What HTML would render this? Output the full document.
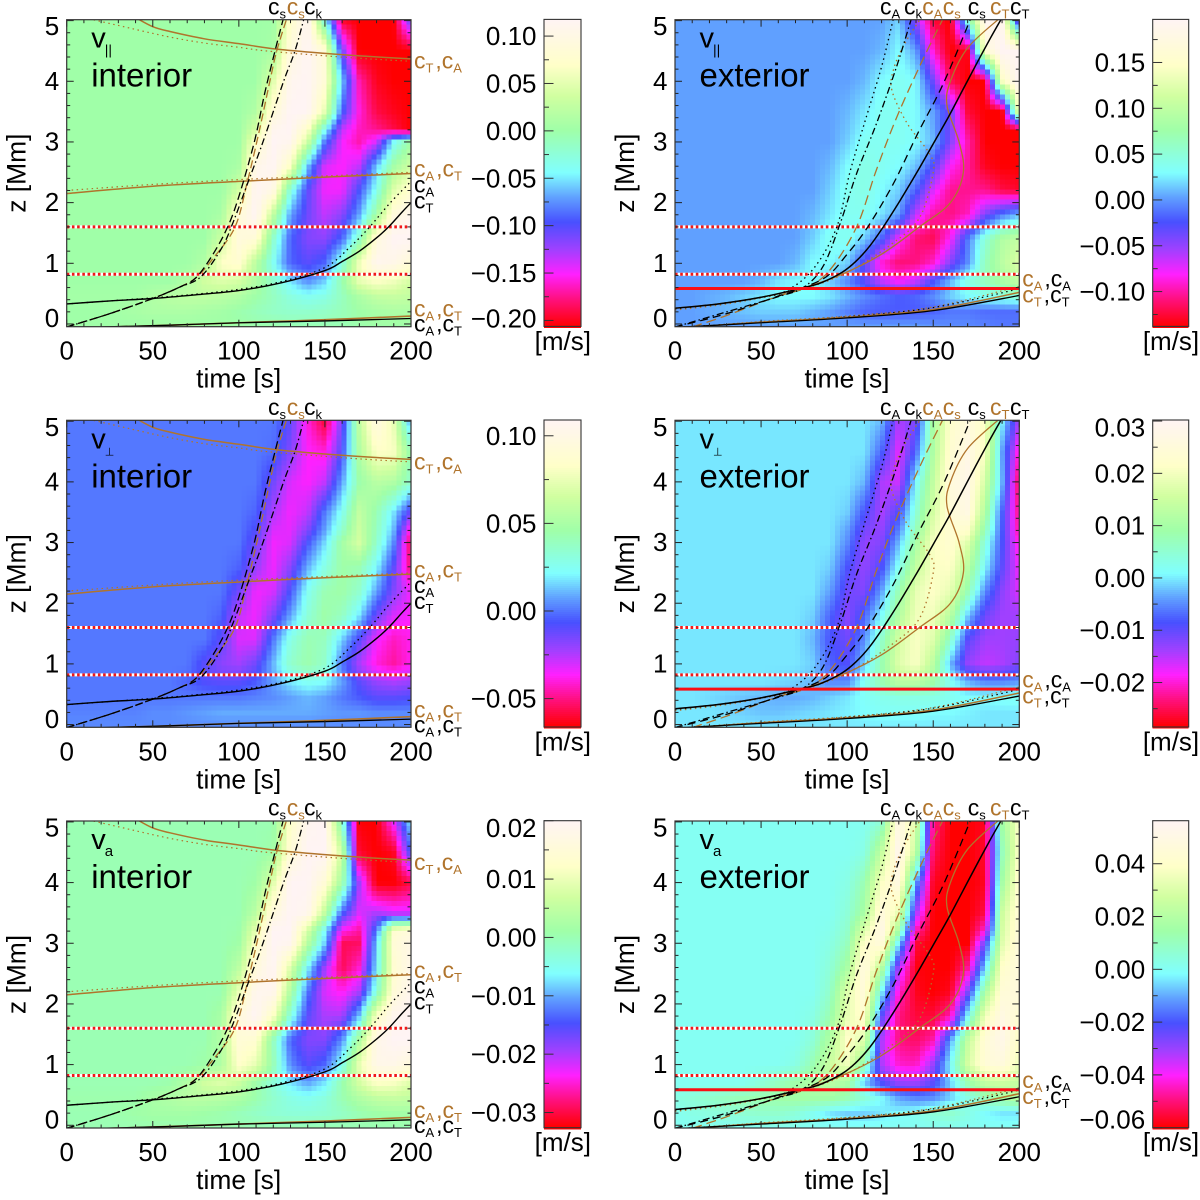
<!DOCTYPE html>
<html lang="en">
<head>
<meta charset="utf-8">
<title>Velocity wave panels</title>
<style>
html,body{margin:0;padding:0;background:#fff;}
svg{display:block;font-family:"Liberation Sans",Arial,sans-serif;}
</style>
</head>
<body>
<svg id="figure" xmlns="http://www.w3.org/2000/svg" width="1200" height="1200" viewBox="0 0 1200 1200"></svg>
<script>
// ---------- heatmap grid axes ----------
const timeGrid = [0,10,20,30,40,50,60,70,80,90,100,110,120,130,140,150,160,170,180,190,200];
const zGrid = [-0.05,0.2,0.45,0.7,1.0,1.4,1.8,2.2,2.6,3.0,3.2,3.5,4.0,4.5,5.05];

// ---------- heatmap values: colour-table index 0..100 (byte-scaled velocity), rows bottom to top ----------
const vParInterior = [
[64,64,64,64,64,64,64,64,64,64,64,63,63,62,62,62,62,63,64,64,64],
[64,64,64,65,66,67,67,67,66,65,63,61,59,58,58,59,61,64,66,67,67],
[65,65,65,65,65,68,70,71,71,70,68,64,60,55,52,54,60,67,72,73,72],
[64,64,64,64,64,64,64,68,75,78,76,68,58,48,40,46,62,80,85,82,76],
[64,64,64,64,64,64,64,64,68,85,88,70,52,36,32,36,55,82,98,96,90],
[64,64,64,64,64,64,64,64,64,74,92,90,58,36,28,27,36,58,92,100,100],
[64,64,64,64,64,64,64,64,64,66,90,100,72,42,30,22,27,42,65,92,98],
[64,64,64,64,64,64,64,64,64,64,75,100,95,55,32,18,18,34,52,78,88],
[64,64,64,64,64,64,64,64,64,64,66,96,100,85,45,20,17,22,45,65,75],
[64,64,64,64,64,64,64,64,64,64,64,85,100,98,75,38,18,12,20,50,64],
[64,64,64,64,64,64,64,64,64,64,64,76,98,100,86,52,22,13,10,5,0],
[64,64,64,64,64,64,64,64,64,64,64,68,90,100,100,80,36,15,5,2,0],
[64,64,64,64,64,64,64,64,64,64,64,64,78,98,100,90,46,12,2,0,0],
[64,64,64,64,64,64,64,64,64,64,64,64,66,92,100,90,30,0,0,0,0],
[64,64,64,64,64,64,64,64,64,64,64,64,64,85,100,50,0,0,0,0,34]
];
const vParExterior = [
[42,42,42,42,42,42,42,42,42,42,42,42,42,42,42,41,40,40,39,38,38],
[42,42,43,44,45,46,46,46,44,42,39,36,35,35,35,36,38,38,37,37,37],
[42,42,43,44,46,48,50,50,50,48,44,40,37,35,36,40,46,50,52,54,56],
[42,42,42,42,42,44,48,50,50,46,40,32,22,17,22,34,44,54,60,66,72],
[42,42,42,42,42,42,42,44,50,50,46,32,14,8,9,14,28,40,60,70,78],
[42,42,42,42,42,42,42,42,46,52,52,46,36,18,8,6,17,38,56,68,72],
[42,42,42,42,42,42,42,42,44,48,52,52,48,42,22,11,9,13,28,38,44],
[42,42,42,42,42,42,42,42,42,46,52,54,50,46,36,20,10,10,10,5,3],
[42,42,42,42,42,42,42,42,42,44,50,54,52,50,45,33,17,11,2,0,0],
[42,42,42,42,42,42,42,42,42,42,46,52,52,52,50,44,28,12,0,0,0],
[42,42,42,42,42,42,42,42,42,42,45,50,52,52,50,43,29,9,0,0,0],
[42,42,42,42,42,42,42,42,42,42,44,48,52,52,50,42,30,4,0,0,85],
[42,42,42,42,42,42,42,42,42,42,42,44,50,52,50,30,6,0,0,85,100],
[42,42,42,42,42,42,42,42,42,42,42,42,44,50,42,14,0,2,90,100,100],
[42,42,42,42,42,42,42,42,42,42,42,42,42,46,25,3,0,60,100,98,15]
];
const vPerpInterior = [
[40,40,40,40,40,40,40,40,40,40,40,40,40,40,40,40,40,40,40,40,40],
[39,39,39,39,39,40,40,41,42,43,43,43,43,43,43,42,41,41,40,40,40],
[38,38,38,38,38,38,38,38,38,38,38,39,40,42,44,42,38,35,32,32,33],
[38,38,38,38,38,38,38,36,33,32,32,35,42,48,52,50,42,32,26,24,26],
[38,38,38,38,38,38,38,38,32,27,25,30,44,58,63,58,38,24,15,11,16],
[38,38,38,38,38,38,38,38,38,32,20,20,38,54,62,60,46,32,18,13,16],
[38,38,38,38,38,38,38,38,38,36,22,18,28,42,56,64,60,48,30,20,17],
[38,38,38,38,38,38,38,38,38,38,30,18,20,34,52,62,64,58,42,28,18],
[38,38,38,38,38,38,38,38,38,38,36,26,18,27,43,54,64,62,50,32,8],
[38,38,38,38,38,38,38,38,38,38,38,30,18,20,34,47,65,76,58,40,6],
[38,38,38,38,38,38,38,38,38,38,38,33,20,19,28,42,58,74,60,44,14],
[38,38,38,38,38,38,38,38,38,38,38,36,24,18,22,38,52,72,62,48,30],
[38,38,38,38,38,38,38,38,38,38,38,38,30,20,17,22,42,63,70,68,58],
[38,38,38,38,38,38,38,38,38,38,38,38,37,28,17,15,33,68,85,84,62],
[38,38,38,38,38,38,38,38,38,38,38,38,38,32,15,3,28,72,95,80,40]
];
const vPerpExterior = [
[48,48,48,48,48,48,48,48,48,48,48,48,48,48,48,48,48,48,48,48,48],
[48,48,48,47,46,45,45,46,47,48,49,50,51,51,51,50,50,49,48,48,48],
[48,48,47,46,45,44,43,43,44,46,48,51,53,54,54,54,52,50,50,51,52],
[48,48,48,48,48,48,47,46,44,40,40,52,62,70,70,64,52,44,40,40,42],
[48,48,48,48,48,48,48,48,46,36,33,46,62,78,84,70,44,26,22,24,28],
[48,48,48,48,48,48,48,48,44,34,30,40,58,76,84,78,58,32,25,25,26],
[48,48,48,48,48,48,48,48,46,36,27,36,50,68,82,82,70,46,30,25,25],
[48,48,48,48,48,48,48,48,48,42,30,28,42,62,80,85,80,62,40,27,20],
[48,48,48,48,48,48,48,48,48,46,34,26,33,52,72,84,85,70,50,32,18],
[48,48,48,48,48,48,48,48,48,48,40,26,28,44,66,84,88,78,55,34,15],
[48,48,48,48,48,48,48,48,48,48,42,29,26,39,61,80,89,86,61,35,11],
[48,48,48,48,48,48,48,48,48,48,46,34,24,33,56,76,90,94,68,36,9],
[48,48,48,48,48,48,48,48,48,48,48,44,24,21,50,72,92,96,76,44,6],
[48,48,48,48,48,48,48,48,48,48,48,48,36,19,36,68,88,95,84,42,14],
[48,48,48,48,48,48,48,48,48,48,48,48,45,24,28,66,86,92,85,50,25]
];
const vaInterior = [
[62,62,62,62,62,62,62,62,62,62,62,62,62,62,62,62,62,62,62,62,62],
[62,62,62,63,64,65,65,65,64,63,61,59,57,56,56,57,59,62,64,65,65],
[63,63,63,63,63,66,68,70,70,69,67,63,58,54,52,55,62,68,72,73,72],
[62,62,62,62,62,62,63,68,75,78,74,64,56,48,42,48,62,76,85,84,78],
[62,62,62,62,62,62,62,62,64,68,86,80,62,40,32,36,52,80,96,96,92],
[62,62,62,62,62,62,62,62,62,68,90,88,60,36,28,28,40,68,96,100,100],
[62,62,62,62,62,62,62,62,62,66,92,100,85,55,32,24,24,45,85,98,100],
[62,62,62,62,62,62,62,62,62,62,80,98,98,68,38,20,16,24,55,90,98],
[62,62,62,62,62,62,62,62,62,62,70,92,100,78,50,25,6,14,48,88,96],
[62,62,62,62,62,62,62,62,62,62,64,85,100,98,70,46,6,7,45,90,95],
[62,62,62,62,62,62,62,62,62,62,63,80,100,100,76,50,16,11,38,88,92],
[62,62,62,62,62,62,62,62,62,62,62,70,92,100,98,72,36,20,24,20,20],
[62,62,62,62,62,62,62,62,62,62,62,64,78,100,100,90,65,25,0,0,5],
[62,62,62,62,62,62,62,62,62,62,62,62,64,90,100,100,75,3,0,2,35],
[62,62,62,62,62,62,62,62,62,62,62,62,62,85,98,100,55,0,0,20,50]
];
const vaExterior = [
[52,52,52,52,52,52,52,52,52,52,52,52,52,52,52,52,52,52,52,52,52],
[52,54,55,56,57,58,58,56,52,48,46,46,48,50,52,56,58,54,50,48,48],
[54,56,58,60,62,63,64,65,65,65,62,56,50,42,39,40,46,54,60,66,70],
[52,52,52,52,52,56,60,64,68,70,66,46,33,26,25,32,46,62,72,74,72],
[52,52,52,52,52,52,52,54,62,74,82,60,24,14,13,26,50,76,90,92,82],
[52,52,52,52,52,52,52,52,56,68,86,78,24,9,7,12,42,72,90,96,85],
[52,52,52,52,52,52,52,52,54,62,80,88,32,9,4,4,12,50,82,94,88],
[52,52,52,52,52,52,52,52,52,58,78,92,50,14,2,0,2,28,66,90,92],
[52,52,52,52,52,52,52,52,52,56,66,94,70,24,1,0,0,10,46,86,92],
[52,52,52,52,52,52,52,52,52,54,60,86,92,48,4,0,0,0,30,78,92],
[52,52,52,52,52,52,52,52,52,53,58,78,96,65,12,0,0,0,15,76,91],
[52,52,52,52,52,52,52,52,52,52,56,66,92,80,25,0,0,0,5,74,90],
[52,52,52,52,52,52,52,52,52,52,54,62,84,94,42,2,0,0,2,65,88],
[52,52,52,52,52,52,52,52,52,52,52,54,72,98,72,6,0,0,3,60,85],
[52,52,52,52,52,52,52,52,52,52,52,52,55,95,78,10,0,0,2,65,85]
];

// ---------- colorbar ranges [min,max] in m/s and printed tick values ----------
const rangeParInt = [-0.2063,0.1176];
const rangeParExt = [-0.138,0.197];
const rangePerpInt = [-0.0662,0.109];
const rangePerpExt = [-0.0285,0.0302];
const rangeVaInt = [-0.0326,0.02];
const rangeVaExt = [-0.06,0.0563];
const ticksParInt = [0.10,0.05,0.00,-0.05,-0.10,-0.15,-0.20];
const ticksParExt = [0.15,0.10,0.05,0.00,-0.05,-0.10];
const ticksPerpInt = [0.10,0.05,0.00,-0.05];
const ticksPerpExt = [0.03,0.02,0.01,0.00,-0.01,-0.02];
const ticksVaInt = [0.02,0.01,0.00,-0.01,-0.02,-0.03];
const ticksVaExt = [0.04,0.02,0.00,-0.02,-0.04,-0.06];

// ---------- axis ticks ----------
const timeMajor = [0,50,100,150,200];
const zMajor = [0,1,2,3,4,5];

// ---------- interior characteristic curves ----------
const intCsBlackT = [0,25,50,65,75,85,93.5,100,109,115,121,126];
const intCsBlackZ = [-0.05,0.17,0.42,0.6,0.76,1.15,1.6,2.1,3.0,3.8,4.5,5.05];
const intCsBrownT = [0,25,50,65,75,85,97.8,105,112,118,122,128];
const intCsBrownZ = [-0.05,0.17,0.42,0.6,0.76,1.08,1.6,2.35,3.2,4.0,4.5,5.05];
const intCkT = [0,25,50,65,78,90,97,105.5,114,126,132.6,138];
const intCkZ = [-0.05,0.17,0.42,0.6,0.78,1.25,1.7,2.35,3.0,4.0,4.5,5.05];
const intCtT = [0,25,50,75,100,125,150,160,170,180,187,195,200];
const intCtZ = [0.33,0.38,0.42,0.48,0.55,0.68,0.88,1.03,1.2,1.42,1.6,1.85,2.0];
const intCaT = [0,25,50,75,100,125,150,165,176,188,200];
const intCaZ = [0.33,0.38,0.43,0.49,0.57,0.7,0.93,1.28,1.6,2.0,2.35];
const intUpperSolidT = [40,50,60,80,100,122,150,175,200];
const intUpperSolidZ = [5.05,4.9,4.82,4.7,4.62,4.53,4.46,4.41,4.37];
const intUpperDotT = [10,30,58,80,100,116,150,175,200];
const intUpperDotZ = [5.05,4.92,4.74,4.63,4.56,4.5,4.42,4.37,4.33];
const intMidSolidT = [0,50,100,150,200];
const intMidSolidZ = [2.15,2.27,2.35,2.42,2.48];
const intMidDotT = [0,50,100,150,200];
const intMidDotZ = [2.2,2.3,2.38,2.44,2.5];
const intLowBlackT = [20,60,100,150,200];
const intLowBlackZ = [-0.05,-0.02,0.02,0.05,0.09];
const intLowBrownT = [25,60,100,150,200];
const intLowBrownZ = [-0.05,-0.02,0.02,0.07,0.13];

// ---------- exterior characteristic curves ----------
const extCtBlackT = [0,25,50,75,85,97,105,113,121,130,137,143,152,159,167,175,183,190];
const extCtBlackZ = [0.26,0.33,0.44,0.6,0.68,0.85,1.03,1.28,1.6,2.0,2.33,2.62,3.07,3.42,3.85,4.28,4.7,5.05];
const extCtBrownT = [0,25,50,75,97,120,142,160,167.5,165,158,160,170,189];
const extCtBrownZ = [0.26,0.33,0.44,0.6,0.82,1.15,1.6,2.0,2.5,3.0,3.6,4.0,4.55,5.05];
const extCaBrownT = [0,25,50,75,100,125,142,150,148,135,126,127,133,143];
const extCaBrownZ = [0.23,0.31,0.43,0.58,0.85,1.3,1.75,2.5,2.8,3.3,3.85,4.2,4.6,5.05];
const extCaBlackT = [0,25,50,65,80.7,94,101.6,111,120,127];
const extCaBlackZ = [0.25,0.33,0.44,0.55,0.92,1.6,2.5,3.4,4.24,5.05];
const extCkT = [0,30,60,74.5,86,96,105.5,117,128.7,137.5];
const extCkZ = [-0.05,0.2,0.45,0.6,0.95,1.66,2.48,3.3,4.24,5.05];
const extCaDashT = [10,30,59,76.5,90,105.5,117,129,143,156];
const extCaDashZ = [-0.05,0.14,0.45,0.6,0.89,1.6,2.54,3.42,4.3,5.05];
const extCsT = [0,30,59,70.7,88,100,112,127,141,156,172];
const extCsZ = [-0.05,0.17,0.45,0.56,0.78,1.15,1.6,2.32,3.14,3.97,5.05];
const extLowBlackT = [5,50,100,150,200];
const extLowBlackZ = [-0.05,0.02,0.1,0.22,0.47];
const extLowBrownT = [10,50,100,150,200];
const extLowBrownZ = [-0.05,0.03,0.11,0.24,0.52];
const extLowDotBlackT = [5,50,100,150,200];
const extLowDotBlackZ = [-0.05,0.03,0.12,0.27,0.58];
const extLowDotBrownT = [10,50,100,150,200];
const extLowDotBrownZ = [-0.05,0.04,0.13,0.28,0.62];

// ---------- reference heights in Mm ----------
const dottedHeights = [0.82,1.6];
const extRedHeight = [0.585];

// ---------- colour table (index, r, g, b) ----------
const colorTable = [
[0,255,0,0],[9,255,16,128],[17,255,32,255],[25,160,64,255],[34,72,80,255],[42,96,160,255],
[50,128,255,255],[64,160,255,168],[75,208,255,160],[85,255,255,200],[100,255,244,244]
];

const BLACK = '#000000', BROWN = '#b0742c';
const interiorCurves = [
 {t:intUpperDotT,z:intUpperDotZ,c:BROWN,w:1.2,d:'1.5 3.5',n:'c-a-upper-brown'},
 {t:intUpperSolidT,z:intUpperSolidZ,c:BROWN,w:1.5,d:'',n:'c-t-upper-brown'},
 {t:intMidDotT,z:intMidDotZ,c:BROWN,w:1.2,d:'1.5 3.5',n:'c-a-mid-brown'},
 {t:intMidSolidT,z:intMidSolidZ,c:BROWN,w:1.5,d:'',n:'c-t-mid-brown'},
 {t:intCsBrownT,z:intCsBrownZ,c:BROWN,w:1.3,d:'8 4',n:'c-s-brown'},
 {t:intLowBrownT,z:intLowBrownZ,c:BROWN,w:1.6,d:'',n:'c-low-brown'},
 {t:intLowBlackT,z:intLowBlackZ,c:BLACK,w:1.3,d:'',n:'c-low-black'},
 {t:intCsBlackT,z:intCsBlackZ,c:BLACK,w:1.3,d:'8 4',n:'c-s-black'},
 {t:intCkT,z:intCkZ,c:BLACK,w:1.3,d:'7 3 1.5 3',n:'c-k-black'},
 {t:intCaT,z:intCaZ,c:BLACK,w:1.3,d:'1.5 3.5',n:'c-a-black'},
 {t:intCtT,z:intCtZ,c:BLACK,w:1.4,d:'',n:'c-t-black'}
];
const exteriorCurves = [
 {t:extCaBrownT,z:extCaBrownZ,c:BROWN,w:1.3,d:'1.5 3.5',n:'c-a-brown-dotted'},
 {t:extCtBrownT,z:extCtBrownZ,c:BROWN,w:1.3,d:'',n:'c-t-brown'},
 {t:extCaDashT,z:extCaDashZ,c:BROWN,w:1.3,d:'10 5',n:'c-s-brown-dashed'},
 {t:extLowDotBrownT,z:extLowDotBrownZ,c:BROWN,w:1.2,d:'1.5 3',n:'c-a-low-brown'},
 {t:extLowDotBlackT,z:extLowDotBlackZ,c:BLACK,w:1.2,d:'1.5 3.5',n:'c-a-low-black'},
 {t:extLowBrownT,z:extLowBrownZ,c:BROWN,w:1.5,d:'',n:'c-t-low-brown'},
 {t:extLowBlackT,z:extLowBlackZ,c:BLACK,w:1.3,d:'',n:'c-t-low-black'},
 {t:extCaBlackT,z:extCaBlackZ,c:BLACK,w:1.3,d:'1.5 3.5',n:'c-a-black'},
 {t:extCkT,z:extCkZ,c:BLACK,w:1.3,d:'7 3 1.5 3',n:'c-k-black'},
 {t:extCsT,z:extCsZ,c:BLACK,w:1.3,d:'8 5',n:'c-s-black'},
 {t:extCtBlackT,z:extCtBlackZ,c:BLACK,w:1.5,d:'',n:'c-t-black'}
];

const panels = [
 {key:'v-par-interior',sym:'||',symSize:14,inner:'interior',data:vParInterior,range:rangeParInt,ticks:ticksParInt,col:0,row:0},
 {key:'v-par-exterior',sym:'||',symSize:14,inner:'exterior',data:vParExterior,range:rangeParExt,ticks:ticksParExt,col:1,row:0},
 {key:'v-perp-interior',sym:'\u22A5',symSize:11,inner:'interior',data:vPerpInterior,range:rangePerpInt,ticks:ticksPerpInt,col:0,row:1},
 {key:'v-perp-exterior',sym:'\u22A5',symSize:11,inner:'exterior',data:vPerpExterior,range:rangePerpExt,ticks:ticksPerpExt,col:1,row:1},
 {key:'v-a-interior',sym:'a',symSize:15,inner:'interior',data:vaInterior,range:rangeVaInt,ticks:ticksVaInt,col:0,row:2},
 {key:'v-a-exterior',sym:'a',symSize:15,inner:'exterior',data:vaExterior,range:rangeVaExt,ticks:ticksVaExt,col:1,row:2}
];

// ---------- layout ----------
const NS = 'http://www.w3.org/2000/svg';
const PLOT_W = 344.3, PLOT_H = 307, CELL = 5;
const COL_X = [66.7,675];
const ROW_TOP = [19.7,420.3,821];
const CB_X = [544,1152.7], CB_W = [37,36];
const T_MAX = 200, Z_MIN = -0.045, Z_SPAN = 5.06;
const figure = document.getElementById('figure');

function make(tag, parent){
  const e = document.createElementNS(NS, tag);
  parent.appendChild(e);
  return e;
}
function xAxis(x0, t){ return x0 + t / T_MAX * PLOT_W; }
function zAxis(top, z){ return top + PLOT_H - (z - Z_MIN) / Z_SPAN * PLOT_H; }
function colorAt(v){
  const c = Math.max(0, Math.min(100, v));
  for(let i = 1; i < colorTable.length; i++){
    const a = colorTable[i-1], b = colorTable[i];
    if(c <= b[0]){
      const f = (c - a[0]) / (b[0] - a[0]);
      return 'rgb(' + Math.round(a[1]+(b[1]-a[1])*f) + ',' + Math.round(a[2]+(b[2]-a[2])*f) + ',' + Math.round(a[3]+(b[3]-a[3])*f) + ')';
    }
  }
  return 'rgb(255,244,244)';
}
function bracket(grid, v){
  let i = 0;
  while(i < grid.length - 2 && v > grid[i+1]) i++;
  const f = Math.max(0, Math.min(1, (v - grid[i]) / (grid[i+1] - grid[i])));
  return [i, f];
}
function sample(data, t, z){
  const a = bracket(timeGrid, t), b = bracket(zGrid, z);
  const i = a[0], fx = a[1], j = b[0], fy = b[1];
  const low = data[j][i] * (1-fx) + data[j][i+1] * fx;
  const high = data[j+1][i] * (1-fx) + data[j+1][i+1] * fx;
  return low * (1-fy) + high * fy;
}
function addText(parent, str, x, y, size, anchor, fill, name){
  const t = make('text', parent);
  t.setAttribute('x', x);
  t.setAttribute('y', y);
  t.setAttribute('font-size', size);
  t.setAttribute('text-anchor', anchor);
  t.setAttribute('fill', fill);
  
  
  t.textContent = str;
  return t;
}
function addLine(parent, x1, y1, x2, y2, stroke, width, name){
  const l = make('line', parent);
  l.setAttribute('x1', x1);
  l.setAttribute('y1', y1);
  l.setAttribute('x2', x2);
  l.setAttribute('y2', y2);
  l.setAttribute('stroke', stroke);
  l.setAttribute('stroke-width', width);
  
  
  return l;
}
// speed label, e.g. parts = [['c','s',BLACK],[',','',BROWN]]
function addSpeedLabel(parent, parts, x, y, name){
  const t = make('text', parent);
  t.setAttribute('x', x);
  t.setAttribute('y', y);
  t.setAttribute('font-size', 23);
  
  
  parts.forEach(function(p){
    const main = make('tspan', t);
    main.setAttribute('fill', p[2]);
    main.textContent = p[0];
    if(p[1]){
      const sub = make('tspan', t);
      sub.setAttribute('fill', p[2]);
      sub.setAttribute('font-size', 13);
      sub.setAttribute('dy', 4);
      sub.textContent = p[1];
      const reset = make('tspan', t);
      reset.setAttribute('dy', -4);
      reset.textContent = '\u200A';
    }
  });
}
function smoothPath(xs, ys){
  let d = 'M' + xs[0].toFixed(2) + ' ' + ys[0].toFixed(2);
  for(let i = 0; i < xs.length - 1; i++){
    const p0 = i > 0 ? i - 1 : i, p3 = i + 2 < xs.length ? i + 2 : i + 1;
    const c1x = xs[i] + (xs[i+1] - xs[p0]) / 6, c1y = ys[i] + (ys[i+1] - ys[p0]) / 6;
    const c2x = xs[i+1] - (xs[p3] - xs[i]) / 6, c2y = ys[i+1] - (ys[p3] - ys[i]) / 6;
    d += 'C' + c1x.toFixed(2) + ' ' + c1y.toFixed(2) + ' ' + c2x.toFixed(2) + ' ' + c2y.toFixed(2) + ' ' + xs[i+1].toFixed(2) + ' ' + ys[i+1].toFixed(2);
  }
  return d;
}

function drawHeatmap(p, x0, top, parent){
  const g = make('g', parent);
  
  
  g.setAttribute('shape-rendering', 'crispEdges');
  const cols = Math.ceil(PLOT_W / CELL), rows = Math.ceil(PLOT_H / CELL);
  for(let r = 0; r < rows; r++){
    const py = top + r * CELL;
    const zv = Z_MIN + (top + PLOT_H - (py + CELL / 2)) / PLOT_H * Z_SPAN;
    let c = 0;
    while(c < cols){
      const fill = colorAt(sample(p.data, ((c + 0.5) * CELL) / PLOT_W * T_MAX, zv));
      let end = c + 1;
      while(end < cols && colorAt(sample(p.data, ((end + 0.5) * CELL) / PLOT_W * T_MAX, zv)) === fill) end++;
      const cell = make('rect', g);
      cell.setAttribute('x', (x0 + c * CELL).toFixed(2));
      cell.setAttribute('y', py.toFixed(2));
      cell.setAttribute('width', ((end - c) * CELL + 0.6).toFixed(2));
      cell.setAttribute('height', CELL + 0.6);
      cell.setAttribute('fill', fill);
      
      
      c = end;
    }
  }
}

function drawCurves(list, x0, top, parent){
  list.forEach(function(s){
    const path = make('path', parent);
    path.setAttribute('d', smoothPath(s.t.map(function(v){ return xAxis(x0, v); }), s.z.map(function(v){ return zAxis(top, v); })));
    path.setAttribute('fill', 'none');
    path.setAttribute('stroke', s.c);
    path.setAttribute('stroke-width', s.w);
    if(s.d) path.setAttribute('stroke-dasharray', s.d);
    
    
  });
}

function drawAxes(x0, top, parent){
  const bottom = top + PLOT_H, right = x0 + PLOT_W;
  for(let t = 0; t <= T_MAX; t += 10){
    const major = timeMajor.indexOf(t) >= 0, len = major ? 7 : 3.5, x = xAxis(x0, t);
    addLine(parent, x, bottom, x, bottom - len, '#222', 1, 'x-tick-bottom');
    addLine(parent, x, top, x, top + len, '#222', 1, 'x-tick-top');
  }
  for(let i = 0; i <= 25; i++){
    const z = i / 5, major = i % 5 === 0, len = major ? 7 : 3.5, y = zAxis(top, z);
    addLine(parent, x0, y, x0 + len, y, '#222', 1, 'z-tick-left');
    addLine(parent, right, y, right - len, y, '#222', 1, 'z-tick-right');
  }
  const frame = make('rect', parent);
  frame.setAttribute('x', x0);
  frame.setAttribute('y', top);
  frame.setAttribute('width', PLOT_W);
  frame.setAttribute('height', PLOT_H);
  frame.setAttribute('fill', 'none');
  frame.setAttribute('stroke', '#333');
  frame.setAttribute('stroke-width', 1.2);
  
  
  timeMajor.forEach(function(t){
    addText(parent, String(t), xAxis(x0, t), bottom + 33, 26, 'middle', '#000', 'x-tick-label');
  });
  zMajor.forEach(function(z){
    const yc = Math.max(top + 7, Math.min(bottom - 8, zAxis(top, z)));
    addText(parent, String(z), x0 - 7.5, yc + 8.5, 26, 'end', '#000', 'z-tick-label');
  });
  addText(parent, 'time [s]', x0 + 172, bottom + 61, 26.4, 'middle', '#000', 'x-axis-title');
  const zt = addText(parent, 'z [Mm]', 0, 0, 26.4, 'middle', '#000', 'z-axis-title');
  zt.setAttribute('transform', 'translate(' + (x0 - 41) + ' ' + (top + 153.5) + ') rotate(-90)');
}

function drawColorbar(p, top, parent){
  const g = make('g', parent);
  
  
  const x = CB_X[p.col], w = CB_W[p.col], t0 = top - 0.3, bottom = t0 + PLOT_H;
  const strips = make('g', g);
  strips.setAttribute('shape-rendering', 'crispEdges');
  
  
  for(let i = 0; i < PLOT_H; i += 2){
    const strip = make('rect', strips);
    strip.setAttribute('x', x);
    strip.setAttribute('y', (t0 + i).toFixed(2));
    strip.setAttribute('width', w);
    strip.setAttribute('height', 2.6);
    strip.setAttribute('fill', colorAt(100 - (i + 1) / PLOT_H * 100));
    
    
  }
  const vMin = p.range[0], vMax = p.range[1];
  const yOf = function(v){ return t0 + (vMax - v) / (vMax - vMin) * PLOT_H; };
  const step = p.ticks[0] - p.ticks[1];
  for(let i = -1; i < p.ticks.length; i++){
    const minor = p.ticks[0] - step * (i + 0.5);
    if(minor < vMax && minor > vMin) addLine(g, x, yOf(minor), x + 5, yOf(minor), '#333', 1, 'colorbar-minor-tick');
  }
  p.ticks.forEach(function(v){
    const y = yOf(v);
    addLine(g, x, y, x + 9.5, y, '#333', 1, 'colorbar-major-tick');
    const yc = Math.max(t0 + 7.5, Math.min(bottom - 8, y));
    const lx = x - 7.5;
    addText(g, v.toFixed(2).replace('-', '\u2212'), lx, yc + 9, 26, 'end', '#000', 'colorbar-tick-label');
  });
  const frame = make('rect', g);
  frame.setAttribute('x', x);
  frame.setAttribute('y', t0);
  frame.setAttribute('width', w);
  frame.setAttribute('height', PLOT_H);
  frame.setAttribute('fill', 'none');
  frame.setAttribute('stroke', '#333');
  frame.setAttribute('stroke-width', 1.1);
  
  
  addText(g, '[m/s]', x + w / 2 + 0.3, bottom + 23.5, 26, 'middle', '#000', 'colorbar-unit');
}

function drawSpeedLabels(p, x0, top, parent){
  if(p.col === 0){
    addSpeedLabel(parent, [['c','s',BLACK]], 268, top - 5.4, 'label-c-s');
    addSpeedLabel(parent, [['c','s',BROWN]], 286.7, top - 5.4, 'label-c-s-brown');
    addSpeedLabel(parent, [['c','k',BLACK]], 304, top - 5.4, 'label-c-k');
    addSpeedLabel(parent, [['c','T',BROWN],[',','',BROWN],['c','A',BROWN]], 414, top + 49, 'label-c-t-c-a-upper');
    addSpeedLabel(parent, [['c','A',BROWN],[',','',BROWN],['c','T',BROWN]], 414, top + 157, 'label-c-a-c-t-mid');
    addSpeedLabel(parent, [['c','A',BLACK]], 414, top + 172.6, 'label-c-a');
    addSpeedLabel(parent, [['c','T',BLACK]], 414, top + 188.6, 'label-c-t');
    addSpeedLabel(parent, [['c','A',BROWN],[',','',BROWN],['c','T',BROWN]], 414, top + 297, 'label-c-a-c-t-low-brown');
    addSpeedLabel(parent, [['c','A',BLACK],[',','',BLACK],['c','T',BLACK]], 414, top + 312, 'label-c-a-c-t-low');
  } else {
    addSpeedLabel(parent, [['c','A',BLACK]], 880, top - 5.4, 'label-c-a');
    addSpeedLabel(parent, [['c','k',BLACK]], 904, top - 5.4, 'label-c-k');
    addSpeedLabel(parent, [['c','A',BROWN]], 922.3, top - 5.4, 'label-c-a-brown');
    addSpeedLabel(parent, [['c','s',BROWN]], 942.7, top - 5.4, 'label-c-s-brown');
    addSpeedLabel(parent, [['c','s',BLACK]], 967.7, top - 5.4, 'label-c-s');
    addSpeedLabel(parent, [['c','T',BROWN]], 990, top - 5.4, 'label-c-t-brown');
    addSpeedLabel(parent, [['c','T',BLACK]], 1010, top - 5.4, 'label-c-t');
    addSpeedLabel(parent, [['c','A',BROWN],[',','',BLACK],['c','A',BLACK]], 1022.3, top + 267, 'label-c-a-pair');
    addSpeedLabel(parent, [['c','T',BROWN],[',','',BLACK],['c','T',BLACK]], 1022.3, top + 283, 'label-c-t-pair');
  }
}

panels.forEach(function(p, idx){
  const x0 = COL_X[p.col], top = ROW_TOP[p.row];
  const g = make('g', figure);
  
  

  const defs = make('defs', g);
  const clip = make('clipPath', defs);
  clip.setAttribute('id', 'clip' + idx);
  const clipRect = make('rect', clip);
  clipRect.setAttribute('x', x0);
  clipRect.setAttribute('y', top);
  clipRect.setAttribute('width', PLOT_W);
  clipRect.setAttribute('height', PLOT_H);

  const inside = make('g', g);
  inside.setAttribute('clip-path', 'url(#clip' + idx + ')');
  
  
  drawHeatmap(p, x0, top, inside);

  dottedHeights.forEach(function(z){
    const y = zAxis(top, z);
    addLine(inside, x0, y, x0 + PLOT_W, y, '#ffffff', 3, 'height-line-white');
    const dots = addLine(inside, x0, y, x0 + PLOT_W, y, '#f01818', 3, 'height-line-red-dots');
    dots.setAttribute('stroke-dasharray', '2.6 2.6');
  });
  drawCurves(p.col === 0 ? interiorCurves : exteriorCurves, x0, top, inside);
  if(p.col === 1){
    extRedHeight.forEach(function(z){
      addLine(inside, x0, zAxis(top, z), x0 + PLOT_W, zAxis(top, z), '#fa0f14', 3, 'transition-region-line');
    });
  }

  drawAxes(x0, top, g);
  addText(g, 'v', x0 + 24.5, top + 28, 29, 'start', '#000', 'velocity-symbol');
  addText(g, p.sym, x0 + 38, top + 35, p.symSize, 'start', '#000', 'velocity-subscript');
  addText(g, p.inner, x0 + 24.5, top + 67, 33, 'start', '#000', 'region-label');
  drawSpeedLabels(p, x0, top, g);
  drawColorbar(p, top, g);
});
</script>
</body>
</html>
